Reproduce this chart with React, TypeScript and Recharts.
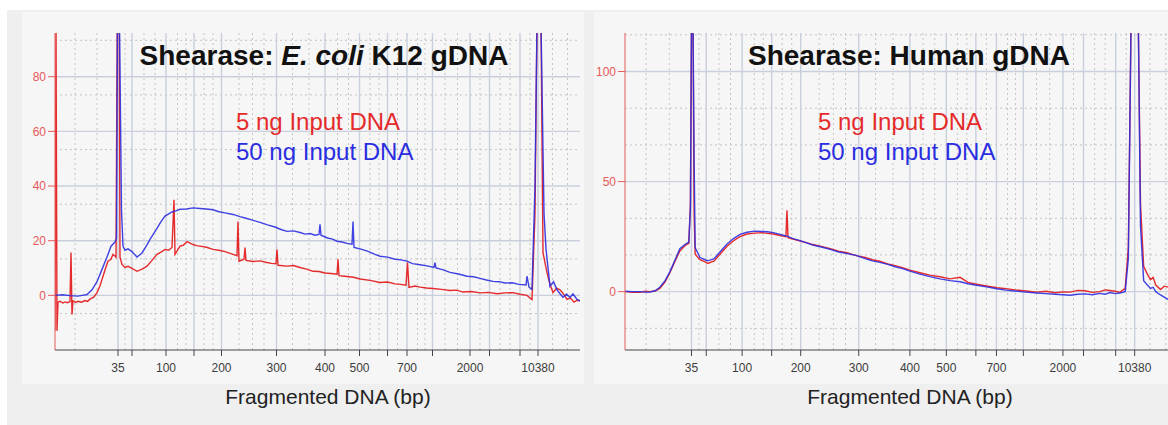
import React from "react";
import { LineChart, Line, XAxis, YAxis, CartesianGrid } from "recharts";

// migration position of the size-ladder ticks (shared by both runs)
const xTicks = [12.6, 15.4, 22.2, 27.8, 33.3, 44.3, 54, 60.9, 66.5, 70.4, 75.5, 83, 86.9, 93, 96.6];
const xTickLabels = ["35", "", "100", "", "200", "300", "400", "500", "", "700", "", "2000", "", "", "10380"];
const xMinor = [4, 8.4, 14, 17.8, 20, 24.5, 26.2, 29.8, 31.6, 36.8, 39.5, 41.8, 47.5, 50.8, 56.5, 58.7, 63, 64.8, 68.5, 72.5, 74, 78, 80.5, 85, 89, 91, 95, 99.5, 102.5];

// E. coli K12 run
const ecoliYTicks = [0, 20, 40, 60, 80];
const ecoliYMinor = [-13.33, -6.67, 6.67, 13.33, 26.67, 33.33, 46.67, 53.33, 66.67, 73.33, 86.67, 93.33];

const ecoli5ngTime = [
  0, 0.2, 0.4, 0.6, 1, 1.6, 2, 2.5, 3, 3.2,
  3.4, 3.6, 4.2, 4.6, 5.3, 6, 6.5, 7, 7.8, 8.4,
  9, 9.6, 10.1, 10.6, 11.2, 11.6, 12.2, 12.45, 12.85, 13,
  13.4, 14, 14.6, 15.4, 16.4, 17.4, 18.4, 19.4, 20.4, 21.2,
  22, 22.7, 23.4, 23.8, 24, 25, 25.7, 26.4, 27.6, 28.3,
  29, 30.3, 31.6, 32.8, 34, 35.6, 36.4, 36.6, 36.8, 37.8,
  38, 38.2, 39.6, 41, 42.4, 43.3, 44.2, 44.4, 44.6, 46.4,
  47.7, 49, 50.3, 51.6, 52.8, 54, 55.2, 56.4, 56.6, 56.8,
  58.4, 59.7, 61, 63, 65, 66.5, 68, 69.1, 70.2, 70.5,
  70.8, 72, 73, 74.3, 75.6, 77.3, 79, 80.3, 81.6, 83.3,
  85, 86.7, 88.4, 90, 91.6, 93, 94.4, 95.4, 96, 96.4,
  97.2, 97.6, 98.4, 99, 99.6, 100.3, 101, 101.7, 102.4, 103.1,
  103.8, 104.4, 105,
];
const ecoli5ng = [
  -13, 100, -13, -2.5, -2.2, -2.8, -2.4, -2.7, -2.3, 15.7,
  -7, -2, -2.6, -2.2, -2.5, -1.9, -2.2, -1.4, -0.6, 1,
  3.5, 7, 9.8, 12.5, 13.2, 15, 14, 100, 100, 14,
  11.3, 10.2, 10.6, 9.9, 8.8, 9.6, 10.7, 12.8, 15, 15.8,
  16.8, 16.5, 17.5, 35, 15, 18, 18.4, 19.7, 18.6, 18.2,
  18, 17.6, 16.8, 16.5, 16, 15, 14.5, 27, 12.5, 13.2,
  17.5, 12.8, 12.4, 12.6, 12, 11.7, 11.6, 16.8, 11, 10.7,
  10.9, 10.2, 9.6, 8.8, 8.7, 8.2, 8, 7.7, 13.2, 7.2,
  6.9, 6.6, 6, 5.5, 4.7, 4.9, 4.2, 4, 3.7, 12,
  2.9, 3.4, 3, 2.7, 2.5, 2.2, 1.8, 1.9, 1.2, 1.4,
  0.9, 1.1, 0.6, 0.9, 1, 0.4, 0, -1.5, 30, 100,
  100, 15.6, 8.3, 4, 1, 2.6, 2, 0.5, -1.5, -1,
  -2.5, -1.8, -2,
];

const ecoli50ngTime = [
  0, 1.5, 3, 4.5, 5.5, 6.4, 7.4, 8.4, 9.4, 10.4,
  11.2, 12, 12.3, 12.5, 12.9, 13.3, 13.6, 14, 14.6, 15.4,
  16.4, 17.4, 18.4, 19, 20.4, 21.2, 22, 23.4, 24.2, 25,
  26.3, 27.6, 29, 30.3, 31.6, 32.8, 34, 35.6, 37, 38,
  39.5, 41, 42.5, 44, 45.2, 46.4, 47.7, 49, 50, 51,
  52, 52.8, 53, 53.2, 54.5, 55.5, 56.4, 57.4, 58.4, 59.4,
  59.6, 59.8, 61, 62.5, 64, 65, 66.5, 68, 69.2, 70.4,
  71.5, 73, 74.4, 75.8, 76, 76.2, 77.5, 79, 80.7, 82.4,
  83.7, 85, 86.3, 87.6, 88.8, 90, 91.4, 92.8, 94.2, 94.4,
  94.8, 95.4, 96, 96.4, 97.2, 97.8, 98.2, 99, 99.7, 100.4,
  101, 101.6, 102.3, 103, 103.6, 104.4, 105,
];
const ecoli50ng = [
  0, 0.2, -0.1, -0.3, 0, 0.3, 2, 5, 9.5, 14,
  18, 19.5, 21, 100, 100, 31, 18, 16.5, 17, 16,
  14, 15.5, 18.5, 20.5, 24.5, 27, 29, 30.5, 30.9, 31.5,
  31.6, 32, 31.8, 31.6, 31.3, 30.6, 30.2, 29.6, 28.8, 28.3,
  27.5, 26.7, 25.8, 25, 24.1, 23.4, 23.6, 23, 22.4, 22.6,
  22, 22.3, 26, 22, 21, 20.6, 19.8, 19.5, 19, 18.7,
  27, 17.5, 17, 16.2, 15, 14.3, 14, 13.2, 13, 12.5,
  11.6, 11.2, 10.8, 10.2, 12, 10, 9.4, 8.4, 7.8, 7,
  6.8, 6.2, 5.6, 5.1, 5, 4.5, 4.6, 4, 3.8, 7,
  3, 2.2, 40, 100, 100, 30, 17, 3.3, 5, 2,
  0.6, -0.7, 0.4, -0.8, 0.5, -1.5, -2,
];

// Human gDNA run
const humanYTicks = [0, 50, 100];
const humanYMinor = [-16.67, 16.67, 33.33, 66.67, 83.33, 116.67];

const humanTime = [
  0, 1.4, 2.8, 3.8, 4.7, 5.7, 6.6, 7.6, 8.5, 9.5,
  10.4, 11.4, 12.1, 12.4, 12.6, 12.9, 13.1, 13.3, 14.2, 15.2,
  15.7, 16.9, 18, 19.3, 20.5, 21.8, 23.1, 24.6, 26, 27,
  28.1, 29.4, 30.5, 30.7, 30.9, 32, 33.2, 34.4, 35.6, 37.2,
  38.9, 40.5, 42.1, 43.8, 45.5, 46.9, 48.3, 49.8, 51.2, 52.6,
  54, 55.9, 57.8, 59.7, 61.6, 63.5, 65, 66.4, 68.5, 70.5,
  72.2, 73.9, 76, 78.1, 79.8, 81.5, 83, 84.4, 85.8, 87.2,
  88.6, 90, 91, 91.9, 92.9, 93.8, 94.8, 95.4, 95.9, 97.3,
  97.7, 98.3, 99, 99.6, 100.1, 100.6, 101.5, 102.2, 103, 104.3,
  105,
];
const human5ng = [
  0, -0.3, -0.3, 0.2, 0, 0.3, 1.5, 4.5, 8.6, 14,
  18.5, 21, 22, 40, 120, 120, 35, 17, 14.5, 13.5,
  12.8, 14, 17, 20.5, 23, 25, 26.2, 26.6, 26.8, 26.5,
  26.2, 25.5, 25, 37, 24.5, 23.8, 23, 22.3, 21.4, 20.6,
  19.5, 18.4, 17.7, 16.4, 15.5, 14.5, 13.8, 12.6, 11.8, 10.9,
  9.8, 8.6, 7.5, 6.8, 5.8, 6.5, 4.2, 3.5, 2.6, 1.8,
  1.4, 0.8, 0.3, -0.2, 0.2, -0.5, -0.1, -0.2, 0.6, 0.4,
  -0.3, 0, 0.8, 0.5, 0.2, -0.3, 1.5, 20, 120, 120,
  40, 11.5, 8, 5.5, 6.5, 3, 1, 2.5, 2, 1.5,
  1.5,
];
const human50ng = [
  0.2, 0, 0, -0.2, -0.2, 0.4, 2, 5, 9, 14.5,
  19.5, 21.5, 22.5, 38, 120, 120, 60, 20, 15.5, 14.5,
  14, 15, 18, 21.5, 24, 26, 27, 27.5, 27.3, 27.2,
  26.8, 26, 25.3, 25.2, 25, 24, 23.2, 22.2, 21.2, 20.3,
  19.2, 18, 17.3, 16.5, 15, 14, 13.3, 12.4, 11.3, 10.5,
  9.3, 8, 6.8, 5.8, 5, 4.5, 3.6, 3, 2.2, 1.3,
  0.7, 0.3, -0.2, -0.6, -0.9, -1.2, -1.4, -1.6, -1.2, -1,
  -1.4, -0.8, -1.2, -0.4, -0.9, -0.6, 0, 15, 120, 120,
  30, 5, 3, 1.5, 2, 0, -1.5, -2.5, -3.6, -3.5,
  -3.5,
];

const RED = "#e52a2c";
const BLUE = "#2b2de0";
const AXIS_RED = "#e65a5a";
const FONT = '"Liberation Sans", Arial, sans-serif';

const zip = (t: number[], v: number[]) => t.map((x, i) => ({ t: x, v: v[i] }));

type PanelProps = {
  left: number;
  width: number;
  marginRight: number;
  yDomain: [number, number];
  yTicks: number[];
  yMinor: number[];
  red: { t: number; v: number }[];
  blue: { t: number; v: number }[];
};

function Panel({ left, width, marginRight, yDomain, yTicks, yMinor, red, blue }: PanelProps) {
  return (
    <div style={{ position: "absolute", left, top: 0 }}>
      <LineChart
        width={width}
        height={420}
        margin={{ top: 33, right: marginRight, bottom: 40, left: 0 }}
      >
        <CartesianGrid
          horizontalValues={yMinor}
          verticalValues={xMinor}
          stroke="#c4c4c4"
          strokeDasharray="2 3"
        />
        <CartesianGrid
          horizontalValues={yTicks}
          verticalValues={xTicks}
          stroke="#c9cfdc"
          strokeWidth={1.4}
        />
        <XAxis
          type="number"
          dataKey="t"
          domain={[0, 105]}
          allowDataOverflow
          ticks={xTicks}
          interval={0}
          tickFormatter={(v: number) => xTickLabels[xTicks.indexOf(v)] ?? ""}
          height={30}
          tickSize={6}
          tickMargin={7}
          stroke="#444"
          tick={{ fill: "#3d3d3d", fontSize: 12, fontFamily: FONT }}
        />
        <YAxis
          type="number"
          domain={yDomain}
          allowDataOverflow
          ticks={yTicks}
          width={55}
          tickSize={7}
          stroke={AXIS_RED}
          tick={{ fill: AXIS_RED, fontSize: 12, fontFamily: FONT }}
        />
        <Line
          data={red}
          dataKey="v"
          stroke={RED}
          strokeWidth={1.4}
          dot={false}
          isAnimationActive={false}
        />
        <Line
          data={blue}
          dataKey="v"
          stroke={BLUE}
          strokeWidth={1.4}
          strokeOpacity={0.9}
          dot={false}
          isAnimationActive={false}
        />
      </LineChart>
    </div>
  );
}

const text = (
  content: React.ReactNode,
  x: number,
  top: number,
  size: number,
  color: string,
  opts: React.CSSProperties = {}
) => (
  <div
    style={{
      position: "absolute",
      left: x,
      top,
      fontSize: size,
      lineHeight: `${size}px`,
      color,
      whiteSpace: "nowrap",
      fontFamily: FONT,
      ...opts,
    }}
  >
    {content}
  </div>
);

export default function App() {
  return (
    <div
      style={{
        position: "fixed",
        left: 0,
        top: 0,
        width: 1168,
        height: 425,
        overflow: "hidden",
        background: "#ffffff",
      }}
    >
      <div style={{ position: "absolute", left: 7, top: 10, right: 0, bottom: 0, background: "#efefef" }} />
      <div style={{ position: "absolute", left: 22, top: 12, width: 562, height: 372, background: "#f6f6f6" }} />
      <div style={{ position: "absolute", left: 594, top: 12, width: 574, height: 372, background: "#f6f6f6" }} />

      <Panel
        left={0}
        width={600}
        marginRight={20}
        yDomain={[-20, 96]}
        yTicks={ecoliYTicks}
        yMinor={ecoliYMinor}
        red={zip(ecoli5ngTime, ecoli5ng)}
        blue={zip(ecoli50ngTime, ecoli50ng)}
      />
      <Panel
        left={570}
        width={620}
        marginRight={11}
        yDomain={[-26.5, 117.5]}
        yTicks={humanYTicks}
        yMinor={humanYMinor}
        red={zip(humanTime, human5ng)}
        blue={zip(humanTime, human50ng)}
      />

      {text(
        <>
          Shearase: <i>E. coli</i> K12 gDNA
        </>,
        324,
        42,
        28,
        "#111",
        { fontWeight: 700, transform: "translateX(-50%)" }
      )}
      {text("Shearase: Human gDNA", 909, 42, 28, "#111", { fontWeight: 700, transform: "translateX(-50%)" })}

      {text("5 ng Input DNA", 236, 110, 24, RED)}
      {text("50 ng Input DNA", 236, 140, 24, BLUE)}
      {text("5 ng Input DNA", 818, 110, 24, RED)}
      {text("50 ng Input DNA", 818, 140, 24, BLUE)}

      {text("Fragmented DNA (bp)", 328, 386, 21, "#222", { transform: "translateX(-50%)" })}
      {text("Fragmented DNA (bp)", 910, 386, 21, "#222", { transform: "translateX(-50%)" })}
    </div>
  );
}
